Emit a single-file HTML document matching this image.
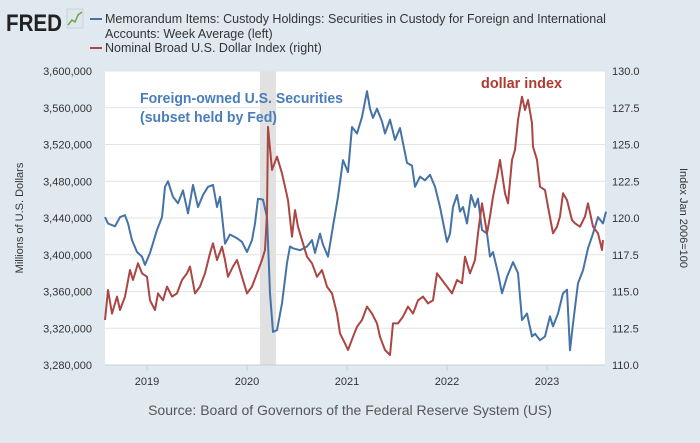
<!DOCTYPE html>
<html><head><meta charset="utf-8"><style>
html,body{margin:0;padding:0;background:#e1e9f0;}
body{width:700px;height:438px;overflow:hidden;font-family:"Liberation Sans",sans-serif;}
</style></head><body>
<svg id="c" width="700" height="438" xmlns="http://www.w3.org/2000/svg" style="font-family:'Liberation Sans',sans-serif">
<rect x="0" y="0" width="700" height="438" fill="#e1e9f0"/>
<g>
<text x="6" y="31" font-size="24" font-weight="bold" fill="#222" textLength="56" lengthAdjust="spacingAndGlyphs">FRED</text>
<rect x="67" y="9" width="16" height="19" fill="#dfe7ec" stroke="#c9d3da"/>
<polyline points="68,25 72,20 75,22 78,15 82,12" fill="none" stroke="#6aa84f" stroke-width="1.5"/>
</g>
<g font-size="12.5" fill="#333">
<line x1="90" y1="19" x2="102" y2="19" stroke="#4572a7" stroke-width="2"/>
<text x="105" y="23">Memorandum Items: Custody Holdings: Securities in Custody for Foreign and International</text>
<text x="105" y="38">Accounts: Week Average (left)</text>
<line x1="90" y1="48" x2="102" y2="48" stroke="#aa4643" stroke-width="2"/>
<text x="105" y="52">Nominal Broad U.S. Dollar Index (right)</text>
</g>
<rect x="105" y="71" width="500" height="294" fill="#fff"/>
<g id="grid"></g>
<g id="axes"></g>
<g id="series"></g>
<text x="140" y="103" font-size="15" font-weight="bold" fill="#4a7ebb" textLength="203" lengthAdjust="spacingAndGlyphs">Foreign-owned U.S. Securities</text>
<text x="140" y="122" font-size="15" font-weight="bold" fill="#4a7ebb" textLength="137" lengthAdjust="spacingAndGlyphs">(subset held by Fed)</text>
<text x="481" y="88" font-size="15" font-weight="bold" fill="#b03a2e" textLength="81" lengthAdjust="spacingAndGlyphs">dollar index</text>
<text transform="translate(23,218) rotate(-90)" text-anchor="middle" font-size="11" fill="#333">Millions of U.S. Dollars</text>
<text transform="translate(680,218) rotate(90)" text-anchor="middle" font-size="11" fill="#333">Index Jan 2006=100</text>
<text x="350" y="415" text-anchor="middle" font-size="14" fill="#555">Source: Board of Governors of the Federal Reserve System (US)</text>
</svg>
<script>
const leftTicks=[3280000,3320000,3360000,3400000,3440000,3480000,3520000,3560000,3600000];
const rightTicks=[110.0,112.5,115.0,117.5,120.0,122.5,125.0,127.5,130.0];
const yearTicks=[2019,2020,2021,2022,2023];
const recession=[2020.13,2020.29];
const custodyK=[[2018.58,3441],[2018.61,3434],[2018.68,3431],[2018.73,3441],[2018.78,3443],[2018.81,3434],[2018.85,3416],[2018.90,3403],[2018.95,3398],[2018.98,3389],[2019.03,3402],[2019.10,3427],[2019.15,3441],[2019.18,3474],[2019.21,3480],[2019.26,3463],[2019.31,3456],[2019.36,3470],[2019.41,3445],[2019.46,3476],[2019.51,3452],[2019.56,3465],[2019.61,3474],[2019.66,3476],[2019.70,3452],[2019.73,3463],[2019.78,3412],[2019.83,3422],[2019.90,3418],[2019.95,3414],[2020.00,3403],[2020.05,3416],[2020.08,3434],[2020.11,3461],[2020.16,3460],[2020.20,3441],[2020.23,3358],[2020.26,3316],[2020.30,3318],[2020.35,3347],[2020.40,3391],[2020.43,3409],[2020.46,3407],[2020.53,3405],[2020.60,3409],[2020.65,3416],[2020.68,3402],[2020.73,3423],[2020.76,3411],[2020.81,3398],[2020.86,3431],[2020.91,3463],[2020.96,3503],[2021.01,3490],[2021.05,3539],[2021.10,3532],[2021.15,3550],[2021.20,3578],[2021.23,3559],[2021.26,3549],[2021.30,3559],[2021.35,3545],[2021.38,3532],[2021.43,3547],[2021.48,3525],[2021.53,3538],[2021.60,3500],[2021.65,3497],[2021.68,3474],[2021.73,3485],[2021.78,3481],[2021.83,3487],[2021.88,3474],[2021.93,3452],[2022.00,3414],[2022.03,3423],[2022.06,3452],[2022.10,3465],[2022.13,3447],[2022.16,3452],[2022.20,3434],[2022.24,3465],[2022.28,3452],[2022.31,3461],[2022.35,3427],[2022.40,3423],[2022.43,3398],[2022.46,3403],[2022.51,3380],[2022.55,3358],[2022.60,3376],[2022.66,3392],[2022.71,3380],[2022.75,3329],[2022.80,3336],[2022.85,3311],[2022.88,3314],[2022.93,3307],[2022.98,3311],[2023.03,3333],[2023.06,3322],[2023.11,3336],[2023.16,3358],[2023.20,3362],[2023.23,3296],[2023.26,3325],[2023.31,3369],[2023.36,3383],[2023.41,3407],[2023.46,3423],[2023.51,3441],[2023.56,3434],[2023.59,3447]];
const dollarIdx=[[2018.58,113.06],[2018.61,115.1],[2018.65,113.5],[2018.70,114.65],[2018.73,113.74],[2018.78,114.65],[2018.83,116.46],[2018.86,115.78],[2018.91,116.92],[2018.95,116.24],[2019.00,116.0],[2019.03,114.4],[2019.08,113.74],[2019.11,114.87],[2019.16,114.4],[2019.20,115.33],[2019.25,114.65],[2019.30,114.87],[2019.35,115.78],[2019.40,116.24],[2019.43,116.7],[2019.48,114.87],[2019.53,115.33],[2019.58,116.24],[2019.63,117.6],[2019.66,118.28],[2019.70,117.14],[2019.75,118.05],[2019.78,117.14],[2019.81,116.0],[2019.86,116.7],[2019.90,117.14],[2019.95,116.0],[2020.00,114.87],[2020.05,115.33],[2020.10,116.24],[2020.15,117.14],[2020.18,117.82],[2020.20,120.32],[2020.21,126.2],[2020.25,123.27],[2020.30,124.17],[2020.35,123.04],[2020.38,122.13],[2020.41,121.22],[2020.45,118.73],[2020.48,120.54],[2020.51,119.41],[2020.55,118.5],[2020.60,117.37],[2020.65,116.92],[2020.70,116.0],[2020.75,116.46],[2020.80,115.33],[2020.85,114.87],[2020.90,113.5],[2020.93,112.15],[2020.98,111.47],[2021.01,111.02],[2021.06,111.92],[2021.10,112.6],[2021.15,113.06],[2021.20,113.97],[2021.25,113.5],[2021.30,112.83],[2021.33,111.92],[2021.38,111.02],[2021.43,110.68],[2021.46,112.83],[2021.51,112.83],[2021.56,113.29],[2021.61,113.97],[2021.66,113.5],[2021.71,114.4],[2021.76,114.65],[2021.81,114.19],[2021.86,114.4],[2021.90,116.24],[2021.95,115.78],[2022.00,115.33],[2022.05,114.87],[2022.10,115.78],[2022.15,115.56],[2022.18,117.37],[2022.23,116.24],[2022.28,117.14],[2022.31,118.96],[2022.35,121.0],[2022.40,118.96],[2022.43,120.1],[2022.46,121.45],[2022.50,122.8],[2022.53,123.95],[2022.58,121.68],[2022.61,121.0],[2022.65,123.95],[2022.68,124.63],[2022.71,126.67],[2022.75,128.25],[2022.78,127.35],[2022.81,128.03],[2022.85,126.44],[2022.86,124.85],[2022.90,123.95],[2022.93,122.13],[2022.98,121.9],[2023.01,120.77],[2023.06,118.96],[2023.10,119.41],[2023.13,120.1],[2023.16,121.68],[2023.20,121.22],[2023.25,119.86],[2023.28,119.64],[2023.33,119.41],[2023.38,120.1],[2023.41,121.0],[2023.46,119.41],[2023.51,118.96],[2023.55,117.82],[2023.56,118.5]];

const NS='http://www.w3.org/2000/svg';
const X0=105,X1=605,Y0=71,Y1=365,T0=2018.58,T1=2023.58;
function xs(t){return X0+(t-T0)/(T1-T0)*(X1-X0);}
function yl(v){return Y1-(v-3280000)/(3600000-3280000)*(Y1-Y0);}
function yr(v){return Y1-(v-110)/(130-110)*(Y1-Y0);}
function mk(tag,attrs,parent){const e=document.createElementNS(NS,tag);for(const k in attrs)e.setAttribute(k,attrs[k]);parent.appendChild(e);return e;}
const grid=document.getElementById('grid'),axes=document.getElementById('axes'),ser=document.getElementById('series');
const rec=mk('rect',{x:xs(recession[0]),y:Y0,width:xs(recession[1])-xs(recession[0]),height:Y1-Y0,fill:'#e1e1e1'},grid);


leftTicks.forEach((v,i)=>{
  const l=mk('line',{x1:X0,x2:X1,y1:yl(v),y2:yl(v),stroke:'#e3e3e3','stroke-width':1},grid);
  
  
  const t=mk('text',{x:92,y:yl(v)+4,'text-anchor':'end','font-size':11,fill:'#333'},axes);
  t.textContent=v.toLocaleString('en-US');
  
  
});
rightTicks.forEach(v=>{
  const t=mk('text',{x:612,y:yr(v)+4,'font-size':11,fill:'#333'},axes);
  t.textContent=v.toFixed(1);
  
  
});
const ax=mk('line',{x1:X0,x2:X1,y1:Y1,y2:Y1,stroke:'#c6d0dc'},axes);


yearTicks.forEach(y=>{
  const tk=mk('line',{x1:xs(y),x2:xs(y),y1:Y1,y2:Y1+6,stroke:'#c6d0dc'},axes);
  
  
  const t=mk('text',{x:xs(y),y:385,'text-anchor':'middle','font-size':11,fill:'#333'},axes);
  t.textContent=y;
  
  
});
const pb=mk('polyline',{points:custodyK.map(d=>xs(d[0]).toFixed(1)+','+yl(d[1]*1000).toFixed(1)).join(' '),fill:'none',stroke:'#4572a7','stroke-width':2,'stroke-linejoin':'round'},ser);


const pr=mk('polyline',{points:dollarIdx.map(d=>xs(d[0]).toFixed(1)+','+yr(d[1]).toFixed(1)).join(' '),fill:'none',stroke:'#aa4643','stroke-width':2,'stroke-linejoin':'round'},ser);


</script>
</body></html>
